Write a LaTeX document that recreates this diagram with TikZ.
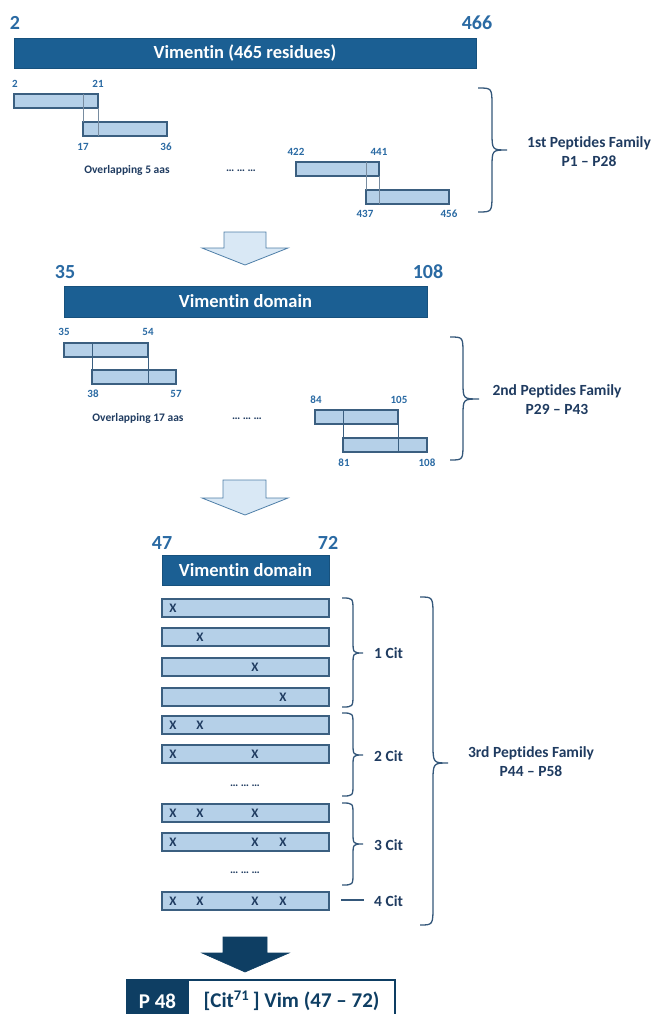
\documentclass[tikz,border=0pt]{standalone}
\usepackage{fontspec}
\setmainfont{Carlito}[Ligatures=NoCommon]
\definecolor{barblue}{RGB}{27,95,147}
\definecolor{numblue}{RGB}{42,106,163}
\definecolor{peplight}{RGB}{181,208,232}
\definecolor{pepedge}{RGB}{59,95,128}
\definecolor{navytext}{RGB}{31,59,96}
\definecolor{bracecol}{RGB}{52,87,122}
\definecolor{arrowfill}{RGB}{217,232,245}
\definecolor{arrowedge}{RGB}{79,127,168}
\definecolor{darknavy}{RGB}{14,62,99}
\definecolor{guide}{RGB}{120,140,160}
\newcommand\mybrace[7]{%
  \draw[bracestyle] (#1,#4) .. controls (#2,#4) .. (#2,#4+#7) -- (#2,#5-#7)
    .. controls (#2,#5) .. (#3,#5) .. controls (#2,#5) .. (#2,#5+#7)
    -- (#2,#6-#7) .. controls (#2,#6) .. (#1,#6);}
\tikzset{
  bracestyle/.style={draw=bracecol,line width=1.3pt},
  darkbar/.style={fill=barblue,draw=barblue!85!black,line width=0.6pt,text=white,
    font=\bfseries\fontsize{18.5}{20}\selectfont,inner sep=0pt,outer sep=0pt,anchor=north west},
  pep/.style={fill=peplight,draw=pepedge,line width=1.1pt,inner sep=0pt,outer sep=0pt,
    anchor=north west,minimum height=14pt},
  row/.style={pep,minimum width=167pt,minimum height=18pt},
  guideline/.style={draw=guide,line width=0.6pt},
  numlab/.style={text=numblue,font=\bfseries\fontsize{11}{12}\selectfont,inner sep=0pt},
  bignum/.style={text=numblue,font=\bfseries\fontsize{20}{22}\selectfont,inner sep=0pt},
  note/.style={text=navytext,font=\bfseries\fontsize{11.5}{13}\selectfont,inner sep=0pt},
  fam/.style={text=navytext,font=\bfseries\fontsize{15.5}{18}\selectfont,inner sep=0pt,align=center},
  xm/.style={text=navytext,font=\bfseries\fontsize{13}{14}\selectfont,inner sep=0pt},
  citlab/.style={text=navytext,font=\bfseries\fontsize{15.5}{18}\selectfont,inner sep=0pt,anchor=west},
  lightarrow/.style={fill=arrowfill,draw=arrowedge,line width=0.8pt,line join=miter},
  darkarrow/.style={fill=darknavy,draw=darknavy,line width=0.6pt},
}
\begin{document}
\begin{tikzpicture}[x=1pt,y=-1pt]
\useasboundingbox (0,0) rectangle (655,1014);

% ---------- top section ----------
\node[bignum] (n2) at (15,23) {2};
\node[bignum] (n466) at (477,23) {466};
\node[darkbar,minimum width=462pt,minimum height=30pt] (vim) at (14,38) {Vimentin (465 residues)};

\node[pep,minimum width=84pt] (p1) at (14,94) {};
\node[pep,minimum width=84pt] (p2) at (83,122) {};
\draw[guideline] (p2.north west |- p1.north) -- (p2.north west);
\draw[guideline] (p1.south east) -- (p1.east |- p2.south);
\node[numlab] (l2) at (15,84) {2};
\node[numlab] (l21) at (98,84) {21};
\node[numlab] (l17) at (83,147) {17};
\node[numlab] (l36) at (166,147) {36};
\node[note] (ov5) at (127,170) {Overlapping 5 aas};
\node[note] (dots1) at (241,171) {… … …};

\node[pep,minimum width=83pt] (p3) at (296,162) {};
\node[pep,minimum width=83pt] (p4) at (366,190) {};
\draw[guideline] (p4.north west |- p3.north) -- (p4.north west);
\draw[guideline] (p3.south east) -- (p3.east |- p4.south);
\node[numlab] (l422) at (296,152) {422};
\node[numlab] (l441) at (379,152) {441};
\node[numlab] (l437) at (365,214) {437};
\node[numlab] (l456) at (449,214) {456};

\mybrace{478}{492}{507}{88}{150}{212}{18}
\node[fam] (fam1) at (589,152) {1st Peptides Family\\[1pt]P1 – P28};

% arrow 1
\draw[lightarrow] (224,232) -- (266,232) -- (266,248) -- (288,248) -- (245,265)
  -- (202,248) -- (224,248) -- cycle;

% ---------- middle section ----------
\node[bignum] (n35) at (65,272) {35};
\node[bignum] (n108) at (428,272) {108};
\node[darkbar,minimum width=363pt,minimum height=31pt] (dom1) at (64,286) {Vimentin domain};

\node[pep,minimum width=84pt] (pa) at (64,343) {};
\node[pep,minimum width=84pt] (pb) at (92,370) {};
\draw[guideline,draw=pepedge] (pb.north west |- pa.north) -- (pb.north west);
\draw[guideline,draw=pepedge] (pa.south east) -- (pa.east |- pb.south);
\node[numlab] (l35) at (64,332) {35};
\node[numlab] (l54) at (148,332) {54};
\node[numlab] (l38) at (93,394) {38};
\node[numlab] (l57) at (176,394) {57};
\node[note] (ov17) at (138,418) {Overlapping 17 aas};
\node[note] (dots2) at (247,419) {… … …};

\node[pep,minimum width=83pt] (pc) at (315,410) {};
\node[pep,minimum width=84pt] (pd) at (343,438) {};
\draw[guideline,draw=pepedge] (pd.north west |- pc.north) -- (pd.north west);
\draw[guideline,draw=pepedge] (pc.south east) -- (pc.east |- pd.south);
\node[numlab] (l84) at (316,400) {84};
\node[numlab] (l105) at (399,400) {105};
\node[numlab] (l81) at (344,463) {81};
\node[numlab] (l108) at (427,463) {108};

\mybrace{450}{463}{479}{337}{399}{460}{17}
\node[fam] (fam2) at (557,400) {2nd Peptides Family\\[1pt]P29 – P43};

% arrow 2
\draw[lightarrow] (223,480) -- (266,480) -- (266,498) -- (288,498) -- (245,515)
  -- (202,498) -- (223,498) -- cycle;

% ---------- bottom section ----------
\node[bignum] (n47) at (162,543) {47};
\node[bignum] (n72) at (328,543) {72};
\node[darkbar,minimum width=167pt,minimum height=30pt] (dom2) at (162,555) {Vimentin domain};

\foreach \yy/\xs [count=\i] in {599/{173}, 628/{200}, 658/{255}, 688/{283},
   716/{173,200}, 745/{173,255}, 804/{173,200,255}, 833/{173,255,283}, 892/{173,200,255,283}} {
  \node[row] (r\i) at (162,\yy) {};
  \foreach \xx [count=\j] in \xs {
    \node[xm] (x\i-\j) at (\xx,\yy+9.5) {X};
  }
}
\node[note] (dots3) at (245,786) {… … …};
\node[note] (dots4) at (245,873) {… … …};

\mybrace{342}{353}{363}{598}{653}{707}{13}
\mybrace{342}{353}{363}{713}{755}{796}{12}
\mybrace{342}{353}{363}{803}{844}{885}{12}
\coordinate (c4a) at (341,900);
\coordinate (c4b) at (364,900);
\draw[bracestyle] (c4a) -- (c4b);
\node[citlab] (cit1) at (374,653) {1 Cit};
\node[citlab] (cit2) at (374,756) {2 Cit};
\node[citlab] (cit3) at (374,845) {3 Cit};
\node[citlab] (cit4) at (374,901) {4 Cit};

\mybrace{420}{433}{448}{597}{763}{925}{20}
\node[fam] (fam3) at (531,762) {3rd Peptides Family\\[1pt]P44 – P58};

% arrow 3
\draw[darkarrow] (223,937) -- (267,937) -- (267,953) -- (289,953) -- (245,972)
  -- (202,953) -- (223,953) -- cycle;

\node[fill=darknavy,draw=darknavy,line width=1.5pt,text=white,anchor=north west,
  minimum width=61pt,minimum height=42pt,inner sep=0pt,outer sep=0pt,
  font=\bfseries\fontsize{21}{24}\selectfont] (p48) at (127,980) {P 48};
\node[fill=white,draw=darknavy,line width=1.5pt,text=darknavy,anchor=north west,
  minimum width=207pt,minimum height=42pt,inner sep=0pt,outer sep=0pt,
  font=\bfseries\fontsize{21}{24}\selectfont] (p48name) at (p48.north east)
  {[Cit\textsuperscript{71}\,] Vim (47 – 72)};
\end{tikzpicture}
\end{document}
